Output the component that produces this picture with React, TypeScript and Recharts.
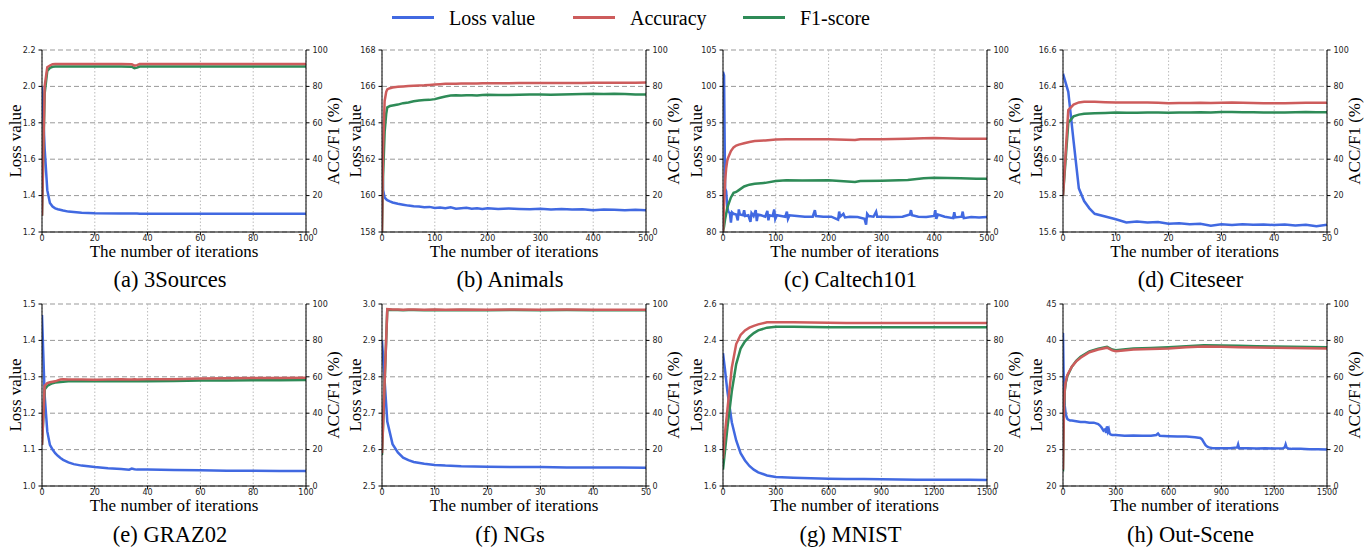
import React from 'react';
import { LineChart, Line, XAxis, YAxis, CartesianGrid } from 'recharts';

const BLUE = '#4169E1';
const RED = '#CD5C5C';
const GREEN = '#2E8B57';

const pctTicks = [0, 20, 40, 60, 80, 100];

// (a) 3Sources
const aIter = [0, 1, 2, 3, 4, 5, 6, 8, 10, 15, 20, 30, 34, 35, 36, 37, 40, 50, 60, 70, 80, 90, 100];
const aLoss = [2.0, 1.66, 1.43, 1.36, 1.34, 1.33, 1.325, 1.318, 1.312, 1.306, 1.303, 1.301, 1.301, 1.301, 1.301, 1.3, 1.3, 1.3, 1.3, 1.3, 1.3, 1.3, 1.3];
const aAcc = [9, 80, 90.5, 91.5, 92.2, 92.3, 92.3, 92.3, 92.3, 92.3, 92.3, 92.3, 92.2, 91.4, 91.7, 92.3, 92.3, 92.3, 92.3, 92.3, 92.3, 92.3, 92.3];
const aF1 = [9, 76, 88.5, 90.2, 90.8, 90.9, 90.9, 90.9, 90.9, 90.9, 90.9, 90.9, 90.8, 90.0, 90.3, 90.9, 90.9, 90.9, 90.9, 90.9, 90.9, 90.9, 90.9];

// (b) Animals
const bIter = [0, 2, 5, 8, 10, 15, 20, 30, 40, 50, 60, 70, 80, 90, 100, 110, 120, 130, 140, 150, 160, 170, 180, 190, 200, 220, 240, 260, 280, 300, 320, 340, 360, 380, 400, 420, 440, 460, 480, 500];
const bLoss = [163, 160.3, 159.9, 159.8, 159.75, 159.68, 159.62, 159.55, 159.5, 159.45, 159.42, 159.4, 159.36, 159.38, 159.32, 159.34, 159.3, 159.36, 159.28, 159.31, 159.33, 159.28, 159.3, 159.27, 159.31, 159.26, 159.29, 159.27, 159.25, 159.28, 159.24, 159.27, 159.23, 159.25, 159.2, 159.24, 159.22, 159.19, 159.22, 159.2];
const bAcc = [0, 45, 72, 77, 78.3, 79, 79.4, 79.8, 80, 80.2, 80.4, 80.5, 80.6, 80.8, 81, 81.2, 81.4, 81.5, 81.5, 81.6, 81.6, 81.6, 81.6, 81.7, 81.7, 81.7, 81.7, 81.8, 81.8, 81.8, 81.8, 81.9, 81.9, 81.9, 82, 82, 82, 82, 82, 82.1];
const bF1 = [0, 30, 55, 65, 68.5, 69.2, 69.5, 70, 70.8, 71.2, 71.8, 72.2, 72.5, 72.6, 73, 73.8, 74.5, 75, 75.1, 75, 75.1, 75.2, 75, 75.3, 75.4, 75.3, 75.3, 75.4, 75.5, 75.5, 75.4, 75.6, 75.7, 75.8, 75.9, 75.8, 75.9, 75.8, 75.6, 75.5];

// (c) Caltech101
const cLossIter = [0, 2, 4, 6, 8, 10, 13, 15, 17, 20, 25, 28, 30, 32, 38, 40, 42, 48, 52, 54, 58, 62, 64, 66, 72, 80, 84, 86, 88, 94, 97, 99, 102, 110, 118, 121, 123, 126, 140, 155, 170, 174, 176, 190, 205, 218, 220, 222, 228, 231, 240, 255, 268, 271, 273, 276, 285, 290, 292, 300, 320, 340, 354, 356, 358, 370, 385, 400, 402, 404, 407, 420, 436, 438, 440, 452, 454, 456, 470, 485, 500];
const cLoss = [102, 101.5, 86, 85.6, 83.5, 82.8, 82.6, 81.3, 82.7, 82.5, 82.4, 81.6, 83.1, 82.4, 82.3, 83, 82.2, 82.3, 81.4, 82.6, 82.2, 83, 81.5, 82.4, 82.3, 82.1, 82.9, 81.6, 82.3, 82.2, 83.1, 81.8, 82.3, 82.2, 82.1, 82.8, 81.8, 82.3, 82.2, 82.1, 82.1, 83, 82.2, 82.1, 82.1, 81.7, 82.8, 82.1, 82.5, 82, 82.1, 82.05, 81.8, 81, 82.5, 82.2, 82.1, 82.8, 82.1, 82.1, 82.05, 82.1, 82.4, 83, 82.3, 82.1, 82.05, 82.2, 83, 81.8, 82.4, 82.1, 81.9, 82.7, 82, 82.1, 82.8, 81.9, 82.05, 82, 82.05];
const cIter = [0, 2, 4, 6, 8, 10, 15, 20, 25, 30, 40, 50, 60, 80, 100, 120, 150, 200, 250, 260, 300, 350, 380, 400, 450, 480, 500];
const cAcc = [0, 15, 28, 35, 39, 41, 44.5, 46.5, 47.5, 48, 48.8, 49.5, 50, 50.3, 50.8, 51, 51, 51, 50.5, 51, 51, 51.2, 51.5, 51.6, 51.3, 51.2, 51.2];
const cF1 = [0, 3, 7, 10, 13, 15, 19, 21.5, 22, 23, 25, 26, 26.5, 27, 28, 28.5, 28.3, 28.5, 27.5, 28, 28.2, 28.6, 29.5, 29.8, 29.5, 29.2, 29.3];

// (d) Citeseer
const dIter = [0, 1, 2, 3, 4, 5, 6, 8, 10, 12, 14, 16, 18, 20, 22, 24, 26, 28, 30, 32, 34, 36, 38, 40, 42, 44, 46, 48, 50];
const dLoss = [16.47, 16.37, 16.1, 15.84, 15.77, 15.73, 15.7, 15.685, 15.67, 15.652, 15.657, 15.652, 15.655, 15.645, 15.648, 15.643, 15.645, 15.635, 15.643, 15.638, 15.642, 15.64, 15.641, 15.638, 15.641, 15.636, 15.64, 15.632, 15.64];
const dAcc = [20, 67, 70, 71.2, 71.5, 71.5, 71.5, 71.3, 71.2, 71.1, 71.2, 71.2, 71, 70.8, 70.9, 70.9, 71, 70.9, 71, 71.1, 71, 70.9, 70.8, 70.8, 70.8, 70.9, 71, 71, 71];
const dF1 = [20, 60, 63.5, 64.5, 65, 65.1, 65.2, 65.4, 65.6, 65.5, 65.5, 65.6, 65.6, 65.5, 65.6, 65.7, 65.8, 65.7, 65.9, 65.9, 65.8, 65.8, 65.6, 65.7, 65.6, 65.8, 65.9, 65.8, 65.8];

// (e) GRAZ02
const eIter = [0, 1, 2, 3, 4, 5, 6, 7, 8, 10, 12, 15, 20, 25, 30, 33, 34, 35, 36, 40, 50, 60, 70, 80, 90, 100];
const eLoss = [1.47, 1.25, 1.15, 1.113, 1.1, 1.09, 1.083, 1.077, 1.072, 1.065, 1.06, 1.056, 1.052, 1.049, 1.047, 1.045, 1.048, 1.046, 1.045, 1.045, 1.044, 1.043, 1.042, 1.042, 1.041, 1.041];
const eAcc = [22.5, 55, 56.5, 57, 57.3, 57.5, 58, 58.5, 58.6, 58.5, 58.5, 58.5, 58.4, 58.5, 58.6, 58.5, 58.5, 58.6, 58.5, 58.6, 58.7, 59, 59.2, 59.3, 59.4, 59.5];
const eF1 = [22.5, 53, 55, 55.8, 56.5, 56.8, 57, 57.2, 57.3, 57.5, 57.6, 57.6, 57.6, 57.6, 57.5, 57.5, 57.5, 57.5, 57.6, 57.6, 57.7, 57.9, 58, 58.1, 58.1, 58.2];

// (f) NGs
const fIter = [0, 1, 2, 3, 4, 5, 6, 8, 10, 12, 15, 20, 25, 30, 35, 40, 45, 50];
const fLoss = [2.9, 2.677, 2.615, 2.592, 2.578, 2.571, 2.566, 2.561, 2.558, 2.556, 2.554, 2.553, 2.552, 2.552, 2.551, 2.551, 2.551, 2.55];
const fAcc = [18, 97.2, 97, 97, 96.8, 97, 97, 96.8, 97, 96.8, 97, 96.8, 97, 96.8, 97, 96.9, 96.8, 96.8];
const fF1 = [17, 96.9, 96.7, 96.7, 96.6, 96.7, 96.7, 96.6, 96.7, 96.5, 96.7, 96.6, 96.7, 96.6, 96.7, 96.6, 96.6, 96.5];

// (g) MNIST
const gIter = [0, 10, 25, 50, 75, 100, 125, 150, 175, 200, 250, 300, 400, 500, 600, 700, 800, 900, 1000, 1100, 1200, 1300, 1400, 1500];
const gLoss = [2.33, 2.25, 2.12, 1.95, 1.85, 1.78, 1.74, 1.71, 1.69, 1.675, 1.658, 1.65, 1.645, 1.642, 1.64, 1.639, 1.638, 1.637, 1.636, 1.635, 1.635, 1.634, 1.634, 1.633];
const gAcc = [15, 28, 42, 65, 78, 83, 85.5, 87, 88, 88.8, 90, 90, 90, 89.8, 89.7, 89.6, 89.6, 89.6, 89.5, 89.5, 89.5, 89.5, 89.5, 89.5];
const gF1 = [9, 18, 32, 52, 67, 75.5, 79.5, 82, 84, 85.5, 87, 87.5, 87.5, 87.3, 87.2, 87.2, 87.2, 87.2, 87.2, 87.2, 87.2, 87.2, 87.2, 87.2];

// (h) Out-Scene
const hLossIter = [0, 3, 6, 10, 15, 20, 25, 30, 40, 50, 75, 100, 125, 150, 175, 200, 210, 220, 230, 240, 245, 250, 255, 260, 265, 270, 280, 290, 300, 350, 400, 450, 500, 530, 540, 550, 600, 650, 700, 750, 780, 790, 800, 810, 820, 830, 850, 900, 950, 990, 995, 1000, 1005, 1050, 1100, 1150, 1200, 1250, 1260, 1265, 1270, 1280, 1300, 1350, 1400, 1450, 1500];
const hLoss = [41, 36, 33, 31, 30, 29.5, 29.2, 29.1, 29, 29, 28.9, 28.8, 28.8, 28.7, 28.7, 28.5, 28.3, 28, 27.6, 27.8, 27.3, 28.2, 27.5, 27.8, 27.2, 27.1, 27, 27, 27, 26.9, 26.95, 26.9, 26.9, 27, 27.2, 26.9, 26.85, 26.8, 26.8, 26.7, 26.6, 26.4, 26, 25.6, 25.4, 25.3, 25.2, 25.2, 25.2, 25.3, 25.7, 25.2, 25.2, 25.2, 25.15, 25.2, 25.15, 25.2, 25.3, 25.7, 25.3, 25.15, 25.1, 25.1, 25.05, 25.05, 25.0];
const hIter = [0, 3, 6, 10, 15, 25, 50, 75, 100, 150, 200, 250, 280, 300, 400, 500, 600, 700, 800, 900, 1000, 1100, 1200, 1300, 1400, 1500];
const hAcc = [9, 30, 45, 53, 57, 61, 65.6, 68.5, 70.5, 73.5, 75, 76, 74.5, 74, 75, 75.3, 75.6, 76.2, 76.7, 76.5, 76.3, 76.1, 75.9, 75.8, 75.7, 75.6];
const hF1 = [8, 28, 43, 52, 56.5, 60.5, 65.5, 68.8, 71, 74, 75.5, 76.5, 75, 74.6, 75.5, 75.8, 76.2, 76.8, 77.4, 77.2, 77, 76.8, 76.6, 76.5, 76.4, 76.2];

const PW = 264;
const PH = 182;
const YL = 40;
const YR = 30;
const MT = 8;
const XH = 22;

const COLS = [42, 382, 722.5, 1062.5];
const ROWS = [49.5, 304];

const panels = [
  { title: '(a) 3Sources', col: 0, row: 0, xTicks: [0, 20, 40, 60, 80, 100], lossTicks: [1.2, 1.4, 1.6, 1.8, 2.0, 2.2], digits: 1, lossIter: aIter, loss: aLoss, iter: aIter, acc: aAcc, f1: aF1 },
  { title: '(b) Animals', col: 1, row: 0, xTicks: [0, 100, 200, 300, 400, 500], lossTicks: [158, 160, 162, 164, 166, 168], digits: 0, lossIter: bIter, loss: bLoss, iter: bIter, acc: bAcc, f1: bF1 },
  { title: '(c) Caltech101', col: 2, row: 0, xTicks: [0, 100, 200, 300, 400, 500], lossTicks: [80, 85, 90, 95, 100, 105], digits: 0, lossIter: cLossIter, loss: cLoss, iter: cIter, acc: cAcc, f1: cF1 },
  { title: '(d) Citeseer', col: 3, row: 0, xTicks: [0, 10, 20, 30, 40, 50], lossTicks: [15.6, 15.8, 16.0, 16.2, 16.4, 16.6], digits: 1, lossIter: dIter, loss: dLoss, iter: dIter, acc: dAcc, f1: dF1 },
  { title: '(e) GRAZ02', col: 0, row: 1, xTicks: [0, 20, 40, 60, 80, 100], lossTicks: [1.0, 1.1, 1.2, 1.3, 1.4, 1.5], digits: 1, lossIter: eIter, loss: eLoss, iter: eIter, acc: eAcc, f1: eF1 },
  { title: '(f) NGs', col: 1, row: 1, xTicks: [0, 10, 20, 30, 40, 50], lossTicks: [2.5, 2.6, 2.7, 2.8, 2.9, 3.0], digits: 1, lossIter: fIter, loss: fLoss, iter: fIter, acc: fAcc, f1: fF1 },
  { title: '(g) MNIST', col: 2, row: 1, xTicks: [0, 300, 600, 900, 1200, 1500], lossTicks: [1.6, 1.8, 2.0, 2.2, 2.4, 2.6], digits: 1, lossIter: gIter, loss: gLoss, iter: gIter, acc: gAcc, f1: gF1 },
  { title: '(h) Out-Scene', col: 3, row: 1, xTicks: [0, 300, 600, 900, 1200, 1500], lossTicks: [20, 25, 30, 35, 40, 45], digits: 0, lossIter: hLossIter, loss: hLoss, iter: hIter, acc: hAcc, f1: hF1 },
];

const tickStyle = { fontSize: 8, fill: '#222', fontFamily: 'DejaVu Sans' };
const serif = '"Liberation Serif", "Times New Roman", serif';

function Panel({ p }: { p: (typeof panels)[number] }) {
  const left = COLS[p.col];
  const top = ROWS[p.row];
  const xMax = p.xTicks[p.xTicks.length - 1];
  const yMin = p.lossTicks[0];
  const yMax = p.lossTicks[p.lossTicks.length - 1];
  const lossData = p.lossIter.map((x, i) => ({ x, v: p.loss[i] }));
  const accData = p.iter.map((x, i) => ({ x, v: p.acc[i] }));
  const f1Data = p.iter.map((x, i) => ({ x, v: p.f1[i] }));
  const cx = left + PW / 2;
  return (
    <>
      <div style={{ position: 'absolute', left: left - YL, top: top - MT }}>
        <LineChart width={YL + PW + YR} height={MT + PH + XH} margin={{ top: MT, right: 0, bottom: 0, left: 0 }}>
          <CartesianGrid xAxisId="x" yAxisId="loss" vertical={false} stroke="#999" strokeDasharray="5 3" />
          <CartesianGrid xAxisId="x" yAxisId="loss" horizontal={false} stroke="#bbb" strokeDasharray="1.5 2" />
          <XAxis xAxisId="x" type="number" dataKey="x" domain={[0, xMax]} ticks={p.xTicks} interval={0} allowDataOverflow height={XH} tickSize={3.5} tickMargin={0} tick={tickStyle} stroke="#000" />
          <XAxis xAxisId="top" orientation="top" type="number" dataKey="x" domain={[0, xMax]} allowDataOverflow height={0} tick={false} tickLine={false} stroke="#000" />
          <YAxis yAxisId="loss" type="number" domain={[yMin, yMax]} ticks={p.lossTicks} interval={0} allowDataOverflow width={YL} tickSize={3.5} tickMargin={3} tick={tickStyle} tickFormatter={(v: number) => v.toFixed(p.digits)} stroke="#000" />
          <YAxis yAxisId="pct" orientation="right" type="number" domain={[0, 100]} ticks={pctTicks} interval={0} allowDataOverflow width={YR} tickSize={3.5} tickMargin={3} tick={tickStyle} stroke="#000" />
          <Line xAxisId="x" yAxisId="loss" data={lossData} dataKey="v" type="linear" stroke={BLUE} strokeWidth={2.5} dot={false} isAnimationActive={false} />
          <Line xAxisId="x" yAxisId="pct" data={f1Data} dataKey="v" type="linear" stroke={GREEN} strokeWidth={2.5} dot={false} isAnimationActive={false} />
          <Line xAxisId="x" yAxisId="pct" data={accData} dataKey="v" type="linear" stroke={RED} strokeWidth={2.5} dot={false} isAnimationActive={false} />
        </LineChart>
      </div>
      <div style={{ position: 'absolute', left: left - 27, top: top + PH / 2, transform: 'translate(-50%,-50%) rotate(-90deg)', fontSize: 17, lineHeight: 1, whiteSpace: 'nowrap' }}>Loss value</div>
      <div style={{ position: 'absolute', left: left + PW + 27, top: top + PH / 2, transform: 'translate(-50%,-50%) rotate(-90deg)', fontSize: 17, lineHeight: 1, whiteSpace: 'nowrap' }}>ACC/F1 (%)</div>
      <div style={{ position: 'absolute', left: cx, top: top + PH + 20, transform: 'translate(-50%,-50%)', fontSize: 17, lineHeight: 0.8, whiteSpace: 'nowrap' }}>The number of iterations</div>
      <div style={{ position: 'absolute', left: cx - 4, top: top + PH + 48.5, transform: 'translate(-50%,-50%)', fontSize: 22.5, lineHeight: 1, whiteSpace: 'nowrap' }}>{p.title}</div>
    </>
  );
}

const legendItems = [
  { name: 'Loss value', color: BLUE, x: 392 },
  { name: 'Accuracy', color: RED, x: 573 },
  { name: 'F1-score', color: GREEN, x: 743 },
];

export default function App() {
  return (
    <div style={{ position: 'absolute', left: 0, top: 0, width: 1367, height: 550, background: '#fff', fontFamily: serif, color: '#000' }}>
      {legendItems.map((it) => (
        <React.Fragment key={it.name}>
          <div style={{ position: 'absolute', left: it.x, top: 16, width: 42, height: 3, background: it.color }} />
          <div style={{ position: 'absolute', left: it.x + 57, top: 18, transform: 'translateY(-50%)', fontSize: 20, lineHeight: 1, whiteSpace: 'nowrap' }}>{it.name}</div>
        </React.Fragment>
      ))}
      {panels.map((p) => (
        <Panel key={p.title} p={p} />
      ))}
    </div>
  );
}
